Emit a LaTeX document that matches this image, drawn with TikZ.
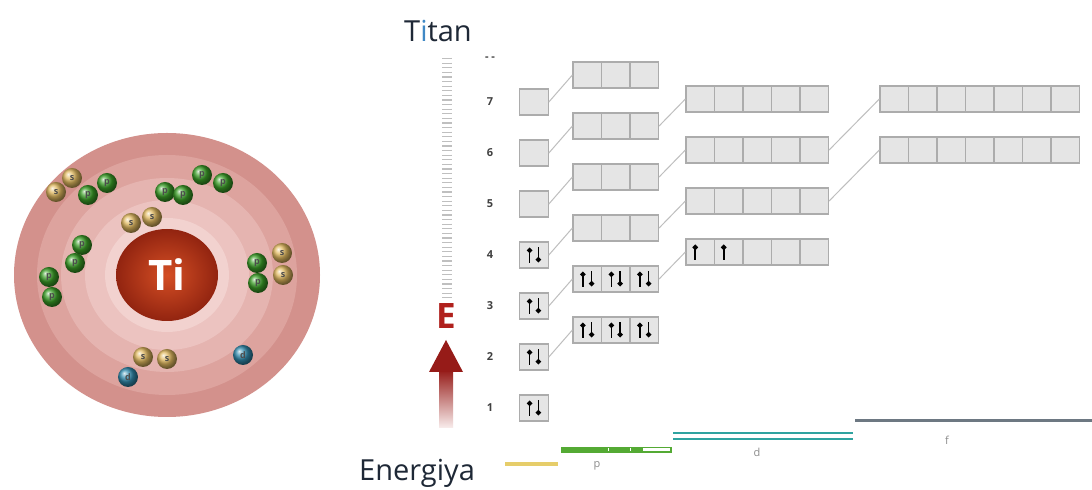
\documentclass[tikz,border=0pt]{standalone}
\usepackage{fontspec}
\setsansfont{Open Sans}
\usepackage{tikz}
\usetikzlibrary{arrows.meta,positioning,shapes.geometric}
\definecolor{orbfill}{RGB}{229,229,229}
\definecolor{orbedge}{RGB}{172,172,172}
\definecolor{orblink}{RGB}{190,190,190}
\definecolor{inkdark}{RGB}{30,40,54}
\definecolor{inkblue}{RGB}{63,136,197}
\definecolor{ered}{RGB}{176,32,28}
\definecolor{ringA}{RGB}{211,145,140}
\definecolor{ringB}{RGB}{221,163,158}
\definecolor{ringC}{RGB}{229,180,176}
\definecolor{ringD}{RGB}{236,195,192}
\definecolor{ringE}{RGB}{242,210,207}
\definecolor{nucA}{RGB}{212,78,36}
\definecolor{nucB}{RGB}{146,36,16}
\definecolor{elS}{RGB}{226,186,96}
\definecolor{elP}{RGB}{60,160,40}
\definecolor{elD}{RGB}{50,140,175}
\definecolor{barS}{RGB}{230,205,106}
\definecolor{barP}{RGB}{84,170,52}
\definecolor{barD}{RGB}{47,163,160}
\definecolor{barF}{RGB}{109,120,130}
\tikzset{
  cell/.style={
    draw=orbedge, fill=orbfill, line width=0.6pt,
    minimum width=14.25pt, minimum height=13pt, inner sep=0pt
  },
  link/.style={draw=orblink, line width=0.5pt},
  spin/.style={-{Circle[length=2.6pt]}, line width=0.8pt, draw=black},
  shell/.style={ellipse, inner sep=0pt},
  elec/.style={
    circle, shade, minimum size=10pt, inner sep=0pt,
    font=\fontsize{4.5}{4.5}\selectfont\sffamily\bfseries, text=black!70
  },
  sel/.style={elec, ball color=elS},
  pel/.style={elec, ball color=elP},
  del/.style={elec, ball color=elD},
  nucleus/.style={
    ellipse, shade, inner color=nucA, outer color=nucB,
    minimum width=51pt, minimum height=46pt, text=white,
    font=\fontsize{21}{21}\selectfont\sffamily\bfseries
  },
  lvl/.style={font=\fontsize{5.5}{5.5}\selectfont\sffamily\bfseries, text=black!75},
  sub/.style={font=\fontsize{5.5}{5.5}\selectfont\sffamily, text=black!45},
  title/.style={font=\fontsize{14.5}{16}\selectfont\sffamily, text=inkdark, anchor=base},
  ruler/.style={draw=black!25, line width=5pt, dash pattern=on 0.6pt off 1.7pt}
}
% one row of orbital cells: name, x of first cell, y, number of cells
\newcommand\orbrow[4]{%
  \foreach \k in {1,...,#4}
    \node[cell] (#1-\k) at ({#2+28.5*(\k-1)},{#3}) {};
}
\newcommand\pairin[1]{%
  \draw[spin] ([xshift=-2.2pt,yshift=-3.8pt]#1.center) -- ++(0,7.4pt);
  \draw[spin] ([xshift=2.2pt,yshift=3.8pt]#1.center) -- ++(0,-7.4pt);
}
\newcommand\upin[1]{%
  \draw[spin] ([xshift=-2.5pt,yshift=-3.8pt]#1.center) -- ++(0,7.4pt);
}
\begin{document}
\begin{tikzpicture}[x=0.5pt, y=-0.5pt]
  \useasboundingbox[fill=white] (0,0) rectangle (1092,490);

  % atom: shells and nucleus
  \node[shell, fill=ringA, minimum width=153pt, minimum height=142pt] (sh1) at (167,275) {};
  \node[shell, fill=ringB, minimum width=130pt, minimum height=120pt] (sh2) at (167,275) {};
  \node[shell, fill=ringC, minimum width=106pt, minimum height=97pt] (sh3) at (167,275) {};
  \node[shell, fill=ringD, minimum width=82pt, minimum height=75pt] (sh4) at (167,275) {};
  \node[shell, fill=ringE, minimum width=62pt, minimum height=57pt] (sh5) at (167,275) {};
  \node[nucleus] (nuc) at (167,275) {Ti};

  % electrons
  \node[sel] (e1) at (72,178) {s};
  \node[sel] (e2) at (56,192) {s};
  \node[pel] (e3) at (88,195) {p};
  \node[pel] (e4) at (107,183) {p};
  \node[pel] (e5) at (165,192) {p};
  \node[pel] (e6) at (183,195) {p};
  \node[pel] (e7) at (202,175) {p};
  \node[pel] (e8) at (223,183) {p};
  \node[sel] (e9) at (131,223) {s};
  \node[sel] (e10) at (152,217) {s};
  \node[pel] (e11) at (82,245) {p};
  \node[pel] (e12) at (75,263) {p};
  \node[pel] (e13) at (49,277) {p};
  \node[pel] (e14) at (52,297) {p};
  \node[pel] (e15) at (257,263) {p};
  \node[pel] (e16) at (258,283) {p};
  \node[sel] (e17) at (282,253) {s};
  \node[sel] (e18) at (283,275) {s};
  \node[sel] (e19) at (143,357) {s};
  \node[sel] (e20) at (167,359) {s};
  \node[del] (e21) at (128,377) {d};
  \node[del] (e22) at (243,355) {d};

  % titles
  \node[title] (ttl) at (438,42) {T\textcolor{inkblue}{i}tan};
  \node[title] (enl) at (417,481) {Energiya};

  % energy scale and arrow
  \draw[ruler] (447,58) -- (447,300);
  \node[font=\fontsize{17.5}{17.5}\selectfont\sffamily\bfseries, text=ered] (elab) at (446,316) {E};
  \shade[top color=ered!85!black, bottom color=ered!8] (439,370) rectangle (453,428);
  \fill[ered!85!black] (446,340) -- (429,372) -- (463,372) -- cycle;

  % shell numbers and s cells
  \node[lvl] (ntop) at (490,59) {- -};
  \foreach \n in {1,...,7} {
    \node[lvl] (n\n) at (490,{459-51*\n}) {\n};
    \node[cell] (s\n) at (534,{459-51*\n}) {};
  }
  % p, d and f cells
  \foreach \n in {2,...,7} {
    \orbrow{p\n}{587.25}{432-51*\n}{3}
    \draw[link] (s\n.east) -- (p\n-1.west);
  }
  \foreach \n in {3,...,6} {
    \orbrow{d\n}{700.25}{405-51*\n}{5}
    \draw[link] (p\n-3.east) -- (d\n-1.west);
  }
  \foreach \n in {4,5} {
    \orbrow{f\n}{894.25}{354-51*\n}{7}
    \draw[link] (d\n-5.east) -- (f\n-1.west);
  }

  % occupied orbitals
  \foreach \n in {1,...,4} {
    \pairin{s\n}
  }
  \foreach \k in {1,2,3} {
    \pairin{p2-\k}
    \pairin{p3-\k}
  }
  \upin{d3-1}
  \upin{d3-2}

  % subshell bars
  \draw[barS, line width=1.6pt] (505,464) -- (558,464);
  \fill[barP] (561,447) rectangle (672,453);
  \fill[white] (643,448.5) rectangle (670,451.5);
  \draw[white, line width=0.5pt] (608,448.5) -- (608,451.5) (630,448.5) -- (630,451.5);
  \draw[barD, line width=1.1pt] (673,433) -- (853,433) (673,439) -- (853,439);
  \draw[barF, line width=1.5pt] (855,421) -- (1092,421);
  \node[sub] (lp) at (597,466) {p};
  \node[sub] (ld) at (757,452) {d};
  \node[sub] (lf) at (947,440) {f};
\end{tikzpicture}
\end{document}
